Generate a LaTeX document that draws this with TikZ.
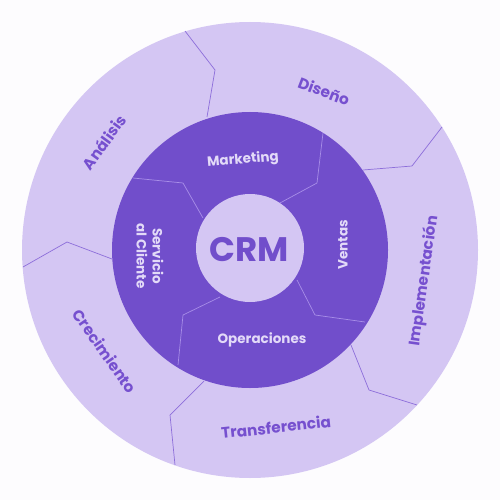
\documentclass[tikz,border=0pt]{standalone}
\usepackage{fontspec}
\setmainfont{Poppins}
\definecolor{bgc}{HTML}{FDFCFE}
\definecolor{ringlight}{HTML}{D4C6F3}
\definecolor{ringdark}{HTML}{714ECB}
\definecolor{outertext}{HTML}{7650CF}
\definecolor{innertext}{HTML}{E3DAF8}
\definecolor{outerline}{HTML}{8D6EDA}
\definecolor{innerline}{HTML}{A88EE8}
\tikzset{
  outerlbl/.style={font=\bfseries\fontsize{15.3}{18}\selectfont, text=outertext, inner sep=0pt},
  innerlbl/.style={font=\bfseries\fontsize{13.5}{16}\selectfont, text=innertext, inner sep=0pt, align=center},
  outerdiv/.style={draw=outerline, line width=0.7pt, line join=round},
  innerdiv/.style={draw=innerline, line width=0.7pt, line join=round},
}
\begin{document}
\begin{tikzpicture}[x=1pt,y=-1pt]
\fill[bgc] (0,0) rectangle (500,500);
\useasboundingbox (0,0) rectangle (500,500);
% rings
\fill[ringlight] (250,250) circle (228);
\fill[ringdark] (250,250) circle (138);
\fill[ringlight] (250,248) circle (54);
% outer dividers
\draw[outerdiv] (185,31) -- (215,70) -- (207,117);
\draw[outerdiv] (442,127) -- (412,166) -- (363,170);
\draw[outerdiv] (351,345) -- (369,390) -- (417,405);
\draw[outerdiv] (204,381) -- (170,415) -- (175,465);
\draw[outerdiv] (23,267) -- (67,242) -- (112,259);
% inner dividers
\draw[innerdiv] (133,178) -- (183,183) -- (203,218);
\draw[innerdiv] (323,133) -- (317,183) -- (280,203);
\draw[innerdiv] (297,280) -- (315,315) -- (365,322);
\draw[innerdiv] (220,297) -- (183,315) -- (178,365);
% outer labels
\node[outerlbl, rotate=54] (analisis) at (104,142) {Análisis};
\node[outerlbl, rotate=-21] (diseno) at (324,91) {Diseño};
\node[outerlbl, rotate=82] (impl) at (424,281) {Implementación};
\node[outerlbl, rotate=6] (transf) at (276,427) {Transferencia};
\node[outerlbl, rotate=-55] (crec) at (105,351) {Crecimiento};
% inner labels
\node[innerlbl, rotate=5] (mkt) at (243,160) {Marketing};
\node[innerlbl, rotate=90] (ventas) at (343,245) {Ventas};
\node[innerlbl] (oper) at (262,340) {Operaciones};
\node[innerlbl, rotate=-90] (serv) at (150,256) {Servicio\\al Cliente};
% center
\node[font=\bfseries\fontsize{34}{36}\selectfont, text=ringdark, inner sep=0pt] (crm) at (249,250) {CRM};
\end{tikzpicture}
\end{document}
